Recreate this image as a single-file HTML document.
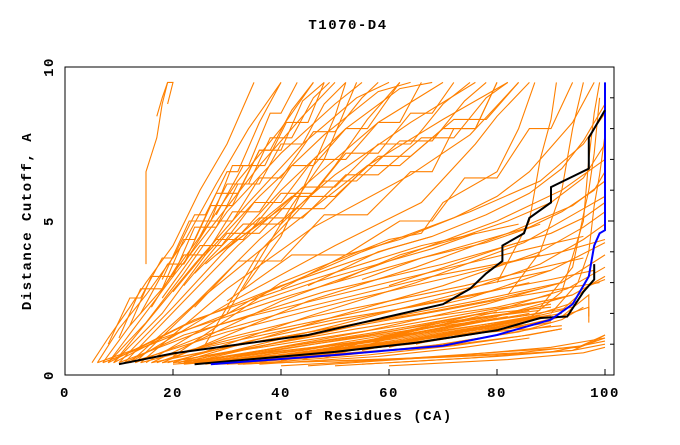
<!DOCTYPE html>
<html><head><meta charset="utf-8"><style>
body{margin:0;background:#fff;}
svg text{font-family:"Liberation Mono",monospace;font-weight:bold;font-size:14px;letter-spacing:1.5px;fill:#000;}
</style></head><body>
<svg id="chart" width="680" height="440" xmlns="http://www.w3.org/2000/svg">
<text x="348" y="29" text-anchor="middle">T1070-D4</text>
<g id="plot"></g>
<rect x="65" y="67" width="549" height="308" fill="none" stroke="#000" stroke-width="1"/>
<g id="axes"></g>
<text x="334" y="420" text-anchor="middle">Percent of Residues (CA)</text>
<text transform="translate(31,221) rotate(-90)" text-anchor="middle">Distance Cutoff, A</text>
</svg>
<script>
const xTicks=[0,20,40,60,80,100];
const yTicks=[0,5,10];
const orangeCurves=[
[[17,8.4],[18,9.0],[19,9.5],[20,9.5],[19,8.8]],
[[15,3.6],[15,6.6],[17,7.7],[18,8.8],[19,9.5]],
[[5,0.4],[8,1.2],[12,2.2],[15,3.0],[20,4.2],[25,6],[30,7.5],[35,9.5]],
[[6,0.4],[10,1.5],[15,2.6],[22,4.3],[28,6.2],[34,8],[40,9.5]],
[[7,0.4],[12,1.6],[18,2.8],[25,4.5],[32,6.3],[40,8],[46,9.5]],
[[8,0.4],[14,1.8],[20,3.2],[28,5],[36,6.8],[44,8.4],[50,9.5]],
[[8,0.4],[15,1.7],[22,3.3],[30,5.3],[40,7.2],[50,8.8],[55,9.5]],
[[9,0.4],[16,1.9],[24,3.6],[34,5.6],[44,7.5],[54,9],[60,9.5]],
[[9,0.4],[18,2.0],[26,3.9],[36,5.8],[48,7.8],[58,9.2],[64,9.5]],
[[10,0.4],[20,2.2],[30,4.1],[40,6],[52,8],[62,9.3],[68,9.5]],
[[11,0.4],[22,2.4],[32,4.2],[46,6.4],[58,8.2],[70,9.5]],
[[12,0.4],[24,2.3],[36,4.4],[50,6.5],[64,8.2],[76,9.5]],
[[13,0.4],[26,2.6],[40,4.6],[56,6.8],[70,8.3],[82,9.5]],
[[14,0.4],[30,2.8],[46,4.8],[64,6.5],[75,7.8],[84,9.5]],
[[12,0.4],[30,2.3],[50,4.2],[66,5.6],[76,7.5],[80,8.4],[86,9.5]],
[[15,0.4],[35,2.5],[55,4],[75,5.3],[88,6.3],[96,7.5],[100,8.5]],
[[16,0.4],[40,2.4],[60,3.7],[80,5],[92,6],[100,7]],
[[18,0.4],[45,2.4],[65,3.5],[82,4.6],[94,5.5],[100,6.3]],
[[20,0.4],[45,1.9],[65,3],[85,4.3],[95,5.3],[100,5.8]],
[[21,0.4],[50,1.9],[70,2.9],[88,4],[96,4.8],[100,5.3]],
[[22,0.4],[50,1.6],[72,2.6],[88,3.6],[96,4.4],[100,4.9]],
[[23,0.4],[55,1.7],[75,2.5],[90,3.4],[100,4.3]],
[[24,0.4],[55,1.4],[78,2.3],[92,3.0],[100,3.9]],
[[25,0.4],[60,1.4],[80,2.1],[93,2.8],[100,3.5]],
[[26,0.4],[60,1.2],[80,1.9],[94,2.6],[100,3.2]],
[[27,0.4],[62,1.1],[82,1.7],[92,2.1],[97,2.9],[100,3.1]],
[[28,0.4],[64,1.0],[82,1.5],[92,1.9],[97,2.6],[97,1.7]],
[[29,0.4],[66,0.9],[84,1.4],[92,1.8],[96,2.2]],
[[30,0.4],[68,0.9],[86,1.3],[92,1.5]],
[[22,0.4],[50,0.8],[72,1.3],[86,1.5],[92,1.6]],
[[20,0.4],[46,0.9],[70,1.6],[84,1.9],[94,2.2]],
[[18,0.4],[40,1.0],[62,1.6],[78,2.1],[92,2.5]],
[[16,0.4],[36,1.1],[58,1.8],[76,2.4],[92,3.0]],
[[14,0.4],[34,1.3],[56,2.1],[74,2.8],[90,3.4]],
[[12,0.4],[30,1.4],[52,2.4],[72,3.2],[88,3.9]],
[[10,0.4],[28,1.6],[48,2.7],[70,3.6],[86,4.4]],
[[8,0.4],[24,1.8],[44,3],[66,4.2],[84,4.9]],
[[20,0.6],[40,3],[60,4.4],[66,4.6],[70,5.6],[80,6.6],[84,8],[87,9.5]],
[[26,1],[36,4],[44,5.5],[50,6.8],[56,8.3],[62,9.5]],
[[30,2],[42,5.5],[48,7],[54,9.5]],
[[33,2.8],[40,4.5],[46,6.8],[50,8.4],[52,9.5]],
[[45,0.3],[70,0.6],[90,0.9],[100,1.2]],
[[40,0.3],[60,0.5],[85,0.8],[95,0.9],[100,1.3]],
[[50,0.3],[80,0.6],[94,0.8],[100,1.0]],
[[85,1.7],[92,2.7],[96,5],[97,7],[98,8.5],[99,9.5]],
[[82,2.6],[88,4],[92,6],[94,8],[96,9.5]],
[[80,3],[86,5],[88,7],[90,8.3],[91,9.5]],
[[8,1.0],[12,2.5],[14,2.5],[18,3.8],[20,3.8],[24,5.2],[26,5.2],[30,6.6],[32,6.6],[36,8.2],[40,9.5]],
[[10,1.2],[14,2.8],[18,2.8],[22,4.4],[24,4.4],[28,5.9],[32,5.9],[36,7.3],[38,7.3],[42,8.6],[46,9.5]],
[[12,1.6],[16,3.2],[20,3.2],[24,4.8],[28,4.8],[32,6.2],[36,6.2],[40,7.5],[44,7.5],[48,8.8],[52,9.5]],
[[14,2.0],[19,3.6],[22,3.6],[27,5.0],[31,5.0],[36,6.4],[40,6.4],[46,7.9],[50,7.9],[55,9.0],[58,9.5]],
[[16,2.2],[22,3.9],[26,3.9],[31,5.3],[36,5.3],[42,6.8],[46,6.8],[52,8.0],[56,8.0],[62,9.5]],
[[18,2.5],[25,4.2],[29,4.2],[35,5.6],[40,5.6],[46,7.0],[52,7.0],[58,8.2],[62,8.2],[66,9.5]],
[[20,2.7],[28,4.4],[33,4.4],[40,5.9],[46,5.9],[52,7.2],[58,7.2],[64,8.5],[68,8.5],[72,9.5]],
[[22,2.9],[30,4.6],[36,4.6],[44,6.1],[50,6.1],[58,7.5],[64,7.5],[70,8.8],[75,9.5]],
[[24,3.3],[33,4.9],[40,4.9],[48,6.3],[54,6.3],[62,7.6],[68,7.6],[74,8.9],[78,9.5]],
[[26,3.6],[36,5.1],[44,5.1],[52,6.5],[58,6.5],[66,7.7],[72,7.7],[78,9.0],[82,9.5]],
[[28,3.9],[40,5.4],[48,5.4],[56,6.8],[62,6.8],[70,8.0],[76,8.0],[80,9.5]],
[[30,4.1],[42,5.8],[50,5.8],[58,7.1],[64,7.1],[72,8.3],[78,8.3],[84,9.5]],
[[18,3.1],[23,5.0],[27,5.0],[31,6.8],[34,6.8],[38,8.5],[40,8.5],[43,9.5]],
[[22,3.6],[27,5.5],[31,5.5],[36,7.3],[40,7.3],[44,8.9],[48,9.5]],
[[25,4.5],[30,6.2],[34,6.2],[38,7.7],[42,7.7],[46,9.0],[49,9.5]],
[[28,5.2],[33,6.8],[37,6.8],[41,8.2],[45,8.2],[48,9.5]],
[[24,2.2],[32,3.7],[40,3.7],[48,5.2],[56,5.2],[64,6.6],[68,6.6],[72,8],[76,8],[80,9.5]],
[[30,2.4],[42,3.9],[52,3.9],[62,5.0],[68,5.0],[74,6.4],[80,6.4],[86,8.0],[90,8.0],[94,9.5]],
[[40,2.8],[52,3.9],[62,4.4],[72,5.1],[80,5.8],[86,6.6],[90,7.4],[94,8.2],[98,9.5]],
[[45,2.9],[58,4.0],[68,4.5],[78,5.2],[86,5.9],[92,6.7],[96,7.6],[100,8.8]],
[[50,3.0],[62,3.9],[72,4.4],[82,5.0],[90,5.6],[96,6.4],[100,7.5]],
[[55,3.1],[66,3.8],[76,4.3],[86,4.8],[92,5.3],[98,6.0],[100,6.6]],
[[60,2.9],[72,3.6],[82,4.2],[90,4.6],[96,5.1],[100,5.6]],
[[6,0.4],[14,0.9],[22,1.6],[30,2.2],[40,2.9],[50,3.5],[60,4.1],[68,4.5]],
[[7,0.4],[16,1.0],[26,1.7],[36,2.4],[46,3.0],[58,3.6],[68,4.1],[76,4.6]],
[[9,0.4],[18,1.2],[30,1.9],[42,2.6],[54,3.2],[66,3.8],[78,4.3],[88,4.9]],
[[11,0.4],[22,1.3],[34,1.9],[48,2.5],[62,3.1],[74,3.6],[86,4.1],[96,4.5]],
[[13,0.4],[26,1.3],[40,2.0],[54,2.6],[68,3.2],[80,3.6],[92,4.0],[100,4.4]],
[[17,0.4],[30,1.2],[46,1.9],[60,2.4],[74,2.9],[86,3.4],[96,3.8]],
[[19,0.4],[34,1.1],[50,1.7],[66,2.3],[78,2.7],[90,3.1],[98,3.4]],
[[21,0.4],[38,1.0],[54,1.6],[70,2.1],[82,2.5],[92,2.8],[99,3.0]],
[[23,0.4],[40,0.9],[58,1.4],[74,1.9],[86,2.3],[94,2.6]],
[[25,0.4],[44,0.8],[62,1.3],[76,1.7],[88,2.0],[95,2.4]],
[[26,0.4],[46,0.75],[64,1.15],[78,1.55],[88,1.85]],
[[28,0.4],[48,0.7],[66,1.05],[80,1.45],[90,1.7]],
[[30,0.35],[52,0.65],[70,1.0],[82,1.35],[90,1.6]],
[[33,0.35],[56,0.65],[72,0.95],[84,1.25],[92,1.5]],
[[36,0.35],[58,0.6],[74,0.9],[86,1.2]],
[[24,0.45],[40,0.9],[56,1.3],[70,1.7],[82,2.0],[90,2.3]],
[[22,0.5],[38,1.0],[54,1.5],[68,1.9],[80,2.2],[90,2.6]],
[[20,0.55],[36,1.1],[52,1.6],[66,2.0],[78,2.4],[88,2.8]],
[[18,0.6],[34,1.2],[50,1.8],[64,2.2],[76,2.6],[86,3.0]],
[[26,0.5],[44,0.95],[60,1.35],[74,1.75],[86,2.1]],
[[28,0.5],[46,0.9],[62,1.25],[76,1.6],[88,1.9]],
[[32,0.45],[50,0.8],[66,1.15],[78,1.45],[90,1.75]],
[[34,0.45],[54,0.85],[68,1.2],[80,1.5]],
[[38,0.5],[56,0.95],[70,1.3],[82,1.6]],
[[42,0.55],[60,1.0],[74,1.4],[86,1.75]],
[[46,0.6],[62,1.1],[76,1.5],[88,1.85]],
[[50,0.7],[66,1.2],[78,1.6],[90,1.95]],
[[55,0.8],[70,1.3],[82,1.7],[92,2.0]],
[[60,0.9],[72,1.4],[84,1.8]],
[[65,1.0],[76,1.5],[86,1.9]],
[[90,2.0],[95,3.0],[97,4.0],[98,5.5],[99,6.5],[100,7.8]],
[[88,2.2],[94,3.5],[96,5.2],[97,6.0],[98,7.2],[99,9.0]],
[[90,1.8],[97,2.2],[97,1.9],[97,1.9]],
[[28,0.35],[60,0.5],[80,0.65],[94,0.8],[98,1.1],[100,1.3]],
[[32,0.35],[64,0.55],[84,0.72],[96,0.95],[100,1.2]],
[[55,0.35],[75,0.55],[90,0.75],[100,1.1]],
[[60,0.3],[82,0.5],[96,0.72],[100,0.9]],
[[20,0.35],[40,0.6],[60,0.95],[72,1.25],[82,1.6],[90,1.9]],
[[22,0.35],[42,0.65],[60,1.05],[74,1.45],[84,1.75]],
[[24,0.35],[44,0.7],[62,1.15],[76,1.55],[86,1.8]],
[[26,0.35],[46,0.8],[64,1.25],[78,1.65],[88,1.95]],
[[28,0.35],[48,0.85],[66,1.35],[78,1.75],[86,2.0]],
[[30,0.35],[50,0.9],[68,1.45],[80,1.85]],
[[32,0.4],[52,0.95],[70,1.55],[82,1.9]],
[[34,0.4],[54,1.05],[70,1.65],[80,1.95]],
[[36,0.4],[56,1.1],[72,1.7],[84,2.05]],
[[40,0.45],[58,1.2],[74,1.8],[88,2.1]],
[[44,0.5],[60,1.3],[76,1.95],[90,2.2]],
[[48,0.55],[64,1.4],[80,2.05]]
];
const blackCurve1=[[10,0.35],[20,0.7],[45,1.3],[60,1.9],[70,2.3],[75,2.8],[78,3.3],[81,3.7],[81,4.2],[85,4.6],[86,5.1],[90,5.6],[90,6.1],[97,6.7],[97,7.7],[100,8.6]];
const blackCurve2=[[24,0.35],[50,0.75],[65,1.05],[80,1.45],[88,1.85],[93,1.9],[96,2.7],[98,3.1],[98,3.6]];
const blueCurve=[[27,0.35],[50,0.65],[70,0.95],[80,1.3],[90,1.8],[94,2.3],[97,3.2],[98,4.2],[99,4.6],[100,4.7],[100,9.5]];

const NS='http://www.w3.org/2000/svg';
const X=v=>65+v*5.4;
const Y=v=>375-v*30.8;
const plot=document.getElementById('plot');
const axes=document.getElementById('axes');
function line(pts,color,w,name){
  const p=document.createElementNS(NS,'polyline');
  p.setAttribute('points',pts.map(q=>X(q[0]).toFixed(1)+','+Y(q[1]).toFixed(1)).join(' '));
  p.setAttribute('fill','none');p.setAttribute('stroke',color);p.setAttribute('stroke-width',w);
  
  
  plot.appendChild(p);
}
orangeCurves.forEach((c,i)=>line(c,'#ff8000',1.1,'model-curve-'+i));
line(blackCurve2,'#000',2,'reference-curve-2');
line(blueCurve,'#0000ff',2,'best-model-curve');
line(blackCurve1,'#000',2,'reference-curve-1');
xTicks.forEach(t=>{
  const l=document.createElementNS(NS,'line');
  l.setAttribute('x1',X(t));l.setAttribute('x2',X(t));l.setAttribute('y1',375);l.setAttribute('y2',369);l.setAttribute('stroke','#000');
  
  
  axes.appendChild(l);
  const tx=document.createElementNS(NS,'text');
  tx.setAttribute('x',X(t));tx.setAttribute('y',397);tx.setAttribute('text-anchor','middle');tx.textContent=t;
  
  
  axes.appendChild(tx);
});
for(let v=0;v<=10;v++){
  const l=document.createElementNS(NS,'line');
  const len=(v%5===0)?6:4;
  l.setAttribute('x1',614);l.setAttribute('x2',614-len);l.setAttribute('y1',Y(v));l.setAttribute('y2',Y(v));l.setAttribute('stroke','#000');
  
  
  axes.appendChild(l);
}
yTicks.forEach(t=>{
  const tx=document.createElementNS(NS,'text');
  tx.setAttribute('transform','translate(53,'+Y(t)+') rotate(-90)');tx.setAttribute('text-anchor','middle');tx.textContent=t;
  
  
  axes.appendChild(tx);
});
</script>
</body></html>
